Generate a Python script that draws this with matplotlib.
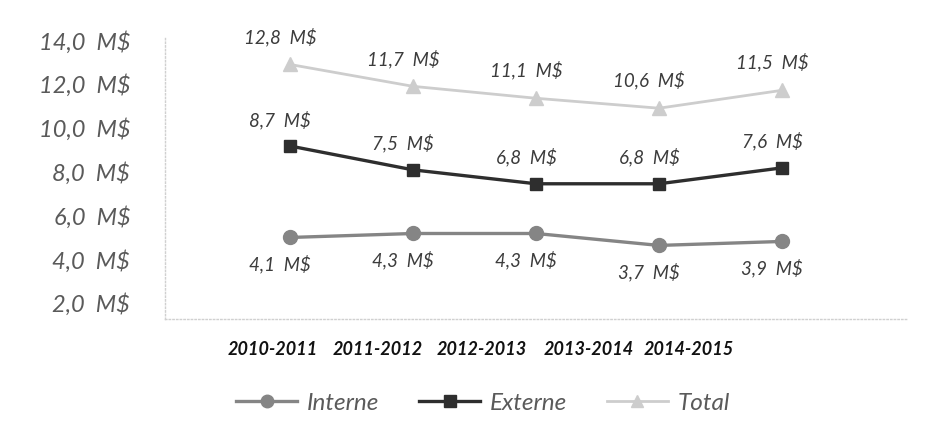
import matplotlib.pyplot as plt
import numpy as np

# budget per year, in M$
years = ['2010-2011', '2011-2012', '2012-2013', '2013-2014', '2014-2015']
interne = [4.1, 4.3, 4.3, 3.7, 3.9]
externe = [8.7, 7.5, 6.8, 6.8, 7.6]
total = [12.8, 11.7, 11.1, 10.6, 11.5]
ytick_labels = ['14,0  M$', '12,0  M$', '10,0  M$', '8,0  M$', '6,0  M$', '4,0  M$', '2,0  M$']

plt.rcParams['font.family'] = ['Lato', 'DejaVu Sans']

fig = plt.figure(figsize=(9.39, 4.29), dpi=100)
ax = fig.add_axes([0.1757, 0.2564, 0.7902, 0.655])

x = np.arange(len(years))
l1, = ax.plot(x, interne, color='#858585', lw=2.4, marker='o', ms=10, label='Interne')
l2, = ax.plot(x, externe, color='#2e2e2e', lw=2.4, marker='s', ms=9, label='Externe')
l3, = ax.plot(x, total, color='#cdcdcd', lw=2.0, marker='^', ms=10, label='Total')

def fmt(v):
    return '{:.1f}'.format(v).replace('.', ',') + '  M$'

# data labels: interne below, others above
for i in range(len(years)):
    ax.annotate(fmt(interne[i]), (x[i], interne[i]), xytext=(-7, -19), textcoords='offset points',
                ha='center', va='center', fontsize=13.5, style='italic', color='#3c3c3c')
    ax.annotate(fmt(externe[i]), (x[i], externe[i]), xytext=(-7, 19), textcoords='offset points',
                ha='center', va='center', fontsize=13.5, style='italic', color='#3c3c3c')
    ax.annotate(fmt(total[i]), (x[i], total[i]), xytext=(-7, 20), textcoords='offset points',
                ha='center', va='center', fontsize=13.5, style='italic', color='#3c3c3c')

ax.set_xlim(-1.016, 5.016)
ax.set_ylim(0, 14.13)

# the scanned chart has its tick labels shifted from the plotted scale
ax.set_yticks(np.linspace(14.03, 0.81, 7))
ax.set_yticklabels(ytick_labels, fontsize=17, style='italic', color='#5a5a5a')
ax.tick_params(axis='y', length=0, pad=25)

ax.set_xticks([-0.138, 0.715, 1.56, 2.43, 3.24])
ax.set_xticklabels(years, fontsize=13, style='italic', fontweight='bold', color='#111111')
ax.tick_params(axis='x', length=0, pad=16)

for s in ['top', 'right']:
    ax.spines[s].set_visible(False)
for s in ['left', 'bottom']:
    ax.spines[s].set_color('#d0d0d0')
    ax.spines[s].set_linestyle(':')
    ax.spines[s].set_linewidth(1.0)

leg = fig.legend(handles=[l1, l2, l3], loc='center', bbox_to_anchor=(483 / 939, 1 - 403 / 429),
                 ncol=3, frameon=False, fontsize=17.5, handlelength=2.5, columnspacing=1.65,
                 handletextpad=0.4, markerscale=0.9)
for t in leg.get_texts():
    t.set_style('italic')
    t.set_color('#5a5a5a')

plt.savefig('out.png', dpi=100)
plt.close()
